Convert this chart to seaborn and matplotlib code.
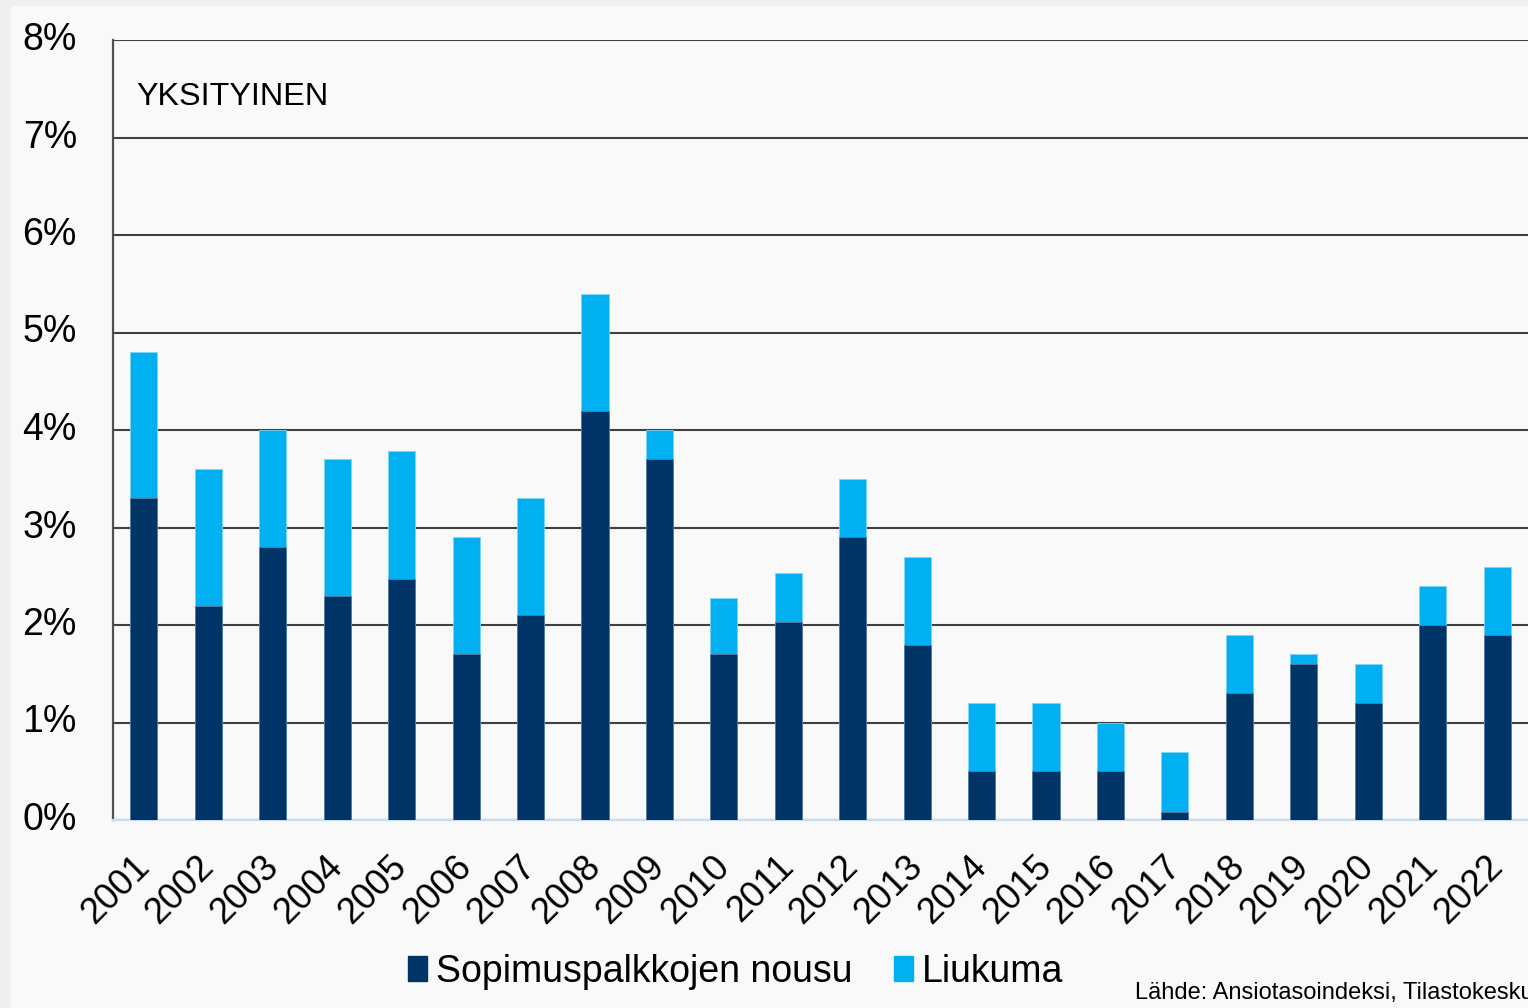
import matplotlib
matplotlib.use("Agg")
import matplotlib.pyplot as plt
import matplotlib.patches as mpatches
from matplotlib.ticker import FuncFormatter
import seaborn as sns
import pandas as pd

years = [str(y) for y in range(2001, 2023)]
sopimus = [3.3, 2.2, 2.8, 2.3, 2.47, 1.7, 2.1, 4.2, 3.7, 1.7, 2.03, 2.9, 1.8,
           0.5, 0.5, 0.5, 0.08, 1.3, 1.6, 1.2, 2.0, 1.9]
liukuma = [1.5, 1.4, 1.2, 1.4, 1.31, 1.2, 1.2, 1.2, 0.3, 0.58, 0.5, 0.6, 0.9,
           0.7, 0.7, 0.5, 0.62, 0.6, 0.1, 0.4, 0.4, 0.7]
y_ticks = [0, 1, 2, 3, 4, 5, 6, 7, 8]

dark = "#003366"
light = "#00b0f0"
bg = "#f9f9f9"

sns.set_theme(style="white")
plt.rcParams["font.family"] = ["Liberation Sans", "DejaVu Sans"]
plt.rcParams["text.color"] = "black"

df = pd.DataFrame({"year": years, "sopimus": sopimus,
                   "total": [a + b for a, b in zip(sopimus, liukuma)]})

fig = plt.figure(figsize=(15.28, 10.08), dpi=100, facecolor=bg)
fig.patches.append(mpatches.Rectangle((0, 0), 11 / 1528, 1, transform=fig.transFigure,
                                      facecolor="#efefef", edgecolor="none", zorder=-1))
fig.patches.append(mpatches.Rectangle((0, 1 - 6 / 1008), 1, 6 / 1008, transform=fig.transFigure,
                                      facecolor="#efefef", edgecolor="none", zorder=-1))

ax = fig.add_axes([113 / 1528, 1 - 820 / 1008, 1 - 113 / 1528, (820 - 40) / 1008])
ax.set_facecolor(bg)

sns.barplot(data=df, x="year", y="total", color=light, saturation=1, width=0.42,
            ax=ax, zorder=3, edgecolor="#7fd6f7", linewidth=0.6)
sns.barplot(data=df, x="year", y="sopimus", color=dark, saturation=1, width=0.42,
            ax=ax, zorder=4, edgecolor="#5a7ea3", linewidth=0.6)

ax.set_ylim(0, 8)
ax.set_xlim(-0.48, 21.48)
ax.set_yticks(y_ticks)
ax.yaxis.set_major_formatter(FuncFormatter(lambda v, p: f"{int(v)}%"))
ax.grid(axis="y", color="#404040", linewidth=1.5, zorder=1)
ax.set_axisbelow(True)
ax.set_xlabel("")
ax.set_ylabel("")

ax.spines["right"].set_visible(False)
ax.spines["top"].set_visible(False)
ax.spines["left"].set_color("#505050")
ax.spines["left"].set_linewidth(1.6)
ax.spines["bottom"].set_color("#c6dcf2")
ax.spines["bottom"].set_linewidth(1.6)

ax.tick_params(axis="y", length=0, pad=26, labelsize=27, labelcolor="black")
ax.tick_params(axis="x", length=0, pad=30, labelsize=26, labelcolor="black")
for lbl in ax.get_yticklabels():
    lbl.set_verticalalignment("center")
for lbl in ax.get_xticklabels():
    lbl.set_rotation(45)
    lbl.set_ha("right")
    lbl.set_va("center")
    lbl.set_rotation_mode("anchor")

fig.text(136 / 1528, 1 - 97 / 1008, "YKSITYINEN", fontsize=23.3, color="black",
         va="center", ha="left")

handles = [mpatches.Patch(color=dark, label="Sopimuspalkkojen nousu"),
           mpatches.Patch(color=light, label="Liukuma")]
leg = fig.legend(handles=handles, loc="center", bbox_to_anchor=(736 / 1528, 1 - 972 / 1008),
                 ncol=2, frameon=False, fontsize=27, handlelength=0.5, handleheight=0.65,
                 handletextpad=0.25, columnspacing=1.1)
for t in leg.get_texts():
    t.set_color("black")

fig.text(1135 / 1528, 1 - 993 / 1008, "Lähde: Ansiotasoindeksi, Tilastokeskus",
         fontsize=17, color="black", va="center", ha="left")

fig.savefig("out.png", dpi=100, facecolor=bg)
